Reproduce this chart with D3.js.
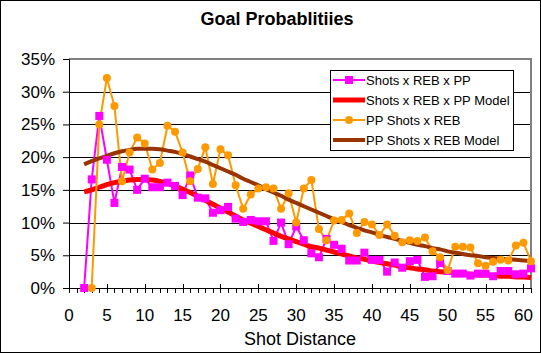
<!DOCTYPE html>
<html>
<head>
<meta charset="utf-8">
<script src="https://cdn.jsdelivr.net/npm/d3@7"></script>
<style>
  body { margin: 0; background: #fff; }
  svg text { font-family: "Liberation Sans", Arial, sans-serif; }
</style>
</head>
<body>
<svg id="chart" width="541" height="353"></svg>
<script>
// ---- data (percent) ----
const shotDist = d3.range(2, 62); // 2..61

const rebPP = [0, 16.6, 26.3, 19.6, 13.0, 18.5, 18.1, 15.0, 16.7, 15.4,
  15.4, 16.1, 15.6, 14.2, 17.2, 13.8, 13.7, 11.5, 11.9, 12.4,
  10.6, 10.1, 10.4, 10.2, 10.2, 7.2, 10.0, 6.7, 9.4, 7.3,
  5.3, 4.7, 7.5, 6.6, 6.0, 4.2, 4.2, 5.4, 4.3, 4.3,
  2.5, 3.9, 3.1, 4.1, 4.3, 1.7, 1.8, 3.8, 2.6, 2.2,
  2.2, 1.9, 2.2, 2.2, 1.8, 2.6, 2.6, 2.1, 2.2, 3.0];

const rebPPModel = [14.7, 15.0, 15.4, 15.8, 16.1, 16.3, 16.5, 16.6, 16.6, 16.5,
  16.3, 16.0, 15.6, 15.1, 14.6, 14.0, 13.4, 12.8, 12.2, 11.6,
  11.0, 10.4, 9.9, 9.4, 8.9, 8.4, 7.9, 7.5, 7.1, 6.7,
  6.3, 6.1, 5.8, 5.5, 5.2, 4.9, 4.6, 4.4, 4.1, 3.9,
  3.7, 3.5, 3.2, 3.1, 2.9, 2.8, 2.6, 2.5, 2.4, 2.3,
  2.2, 2.1, 2.0, 2.0, 1.9, 1.8, 1.8, 1.7, 1.7, 1.6];

const ppDist = d3.range(3, 62); // 3..61
const ppReb = [0, 25.0, 32.1, 27.8, 16.3, 20.7, 23.0, 22.1, 18.1,
  19.1, 24.8, 23.9, 20.7, 16.3, 18.2, 21.5, 15.9, 21.2, 20.3,
  15.7, 12.1, 14.3, 15.2, 15.4, 15.2, 12.1, 14.5, 10.0, 15.2,
  16.5, 9.0, 7.3, 10.3, 10.4, 11.4, 8.4, 10.1, 9.7, 8.1,
  9.7, 8.0, 7.0, 7.3, 7.2, 7.7, 5.6, 4.7, 2.7, 6.3,
  6.3, 6.2, 3.8, 3.4, 4.0, 4.3, 4.2, 6.5, 6.9, 4.1];

const ppRebModel = [18.9, 19.4, 19.8, 20.2, 20.6, 20.9, 21.1, 21.3, 21.3, 21.3,
  21.2, 21.0, 20.8, 20.5, 20.1, 19.7, 19.3, 18.8, 18.3, 17.8,
  17.3, 16.7, 16.2, 15.7, 15.1, 14.6, 14.1, 13.5, 13.0, 12.5,
  12.0, 11.5, 11.0, 10.5, 10.1, 9.6, 9.2, 8.8, 8.5, 8.1,
  7.8, 7.5, 7.2, 6.9, 6.6, 6.4, 6.1, 5.9, 5.6, 5.4,
  5.2, 5.0, 4.9, 4.7, 4.6, 4.5, 4.4, 4.3, 4.2, 4.1];

const yTicks = [0, 5, 10, 15, 20, 25, 30, 35];
const xTicks = [0, 5, 10, 15, 20, 25, 30, 35, 40, 45, 50, 55, 60];
const legendNames = ["Shots x REB x PP", "Shots x REB x PP Model", "PP Shots x REB", "PP Shots x REB Model"];

// ---- layout ----
const svg = d3.select("#chart");
const W = 541, H = 353;
const plot = { left: 69, top: 59, right: 531, bottom: 288 };

svg.append("rect").attr("x", 0.5).attr("y", 0.5)
  .attr("width", W - 1).attr("height", H - 1)
  .attr("fill", "#fff").attr("stroke", "#000");

const x = d3.scaleLinear().domain([0, 61]).range([plot.left, plot.right]);
const y = d3.scaleLinear().domain([0, 35]).range([plot.bottom, plot.top]);

// title
svg.append("text").attr("x", 277).attr("y", 25)
  .attr("text-anchor", "middle").attr("font-size", 18).attr("font-weight", "bold")
  .text("Goal Probablitiies");

// gridlines
svg.append("g").selectAll("line").data(yTicks.slice(1, -1)).join("line")
  .attr("x1", plot.left).attr("x2", plot.right)
  .attr("y1", d => Math.round(y(d)) + 0.5).attr("y2", d => Math.round(y(d)) + 0.5)
  .attr("stroke", "#000").attr("stroke-width", 1);

// plot border (top + right grey)
svg.append("path")
  .attr("d", `M${plot.left},${plot.top} H${plot.right} V${plot.bottom}`)
  .attr("fill", "none").attr("stroke", "#808080").attr("stroke-width", 2);

// y axis
const yAxis = svg.append("g").attr("transform", `translate(${plot.left},0)`)
  .call(d3.axisLeft(y).tickValues(yTicks).tickFormat(d => d + "%").tickSize(6).tickPadding(8));
yAxis.select(".domain").attr("stroke", "#000");
yAxis.selectAll("text").attr("font-size", 17).attr("font-family", "Liberation Sans, Arial, sans-serif").attr("fill", "#000");

// x axis: minor ticks every 1, major every 5
const xAxisG = svg.append("g").attr("transform", `translate(0,${plot.bottom})`);
xAxisG.append("line").attr("x1", plot.left).attr("x2", plot.right)
  .attr("y1", 0.5).attr("y2", 0.5).attr("stroke", "#000");
xAxisG.selectAll("line.minor").data(d3.range(0, 62)).join("line")
  .attr("class", "minor")
  .attr("x1", d => Math.round(x(d)) + 0.5).attr("x2", d => Math.round(x(d)) + 0.5)
  .attr("y1", d => d % 5 === 0 ? -4 : 0).attr("y2", 5)
  .attr("stroke", "#000");
xAxisG.selectAll("text").data(xTicks).join("text")
  .attr("x", d => x(d)).attr("y", 33)
  .attr("text-anchor", "middle").attr("font-size", 17)
  .text(d => d);

svg.append("text").attr("x", 300).attr("y", 345)
  .attr("text-anchor", "middle").attr("font-size", 18)
  .text("Shot Distance");

// ---- series ----
const line = d3.line().x(d => x(d[0])).y(d => y(d[1]));
const smooth = d3.line().x(d => x(d[0])).y(d => y(d[1])).curve(d3.curveMonotoneX);

const pinkPts = d3.zip(shotDist, rebPP);
const redPts = d3.zip(shotDist, rebPPModel);
const orangePts = d3.zip(ppDist, ppReb);
const brownPts = d3.zip(shotDist, ppRebModel);

const colors = ["#ff00ff", "#ff0000", "#ff9900", "#993300"];

svg.append("path").datum(pinkPts).attr("d", line)
  .attr("fill", "none").attr("stroke", colors[0]).attr("stroke-width", 2);
svg.append("path").datum(redPts).attr("d", smooth)
  .attr("fill", "none").attr("stroke", colors[1]).attr("stroke-width", 5);
svg.append("path").datum(orangePts).attr("d", line)
  .attr("fill", "none").attr("stroke", colors[2]).attr("stroke-width", 2);
svg.append("path").datum(brownPts).attr("d", smooth)
  .attr("fill", "none").attr("stroke", colors[3]).attr("stroke-width", 4);

svg.append("g").selectAll("rect").data(pinkPts).join("rect")
  .attr("x", d => x(d[0]) - 4).attr("y", d => y(d[1]) - 4)
  .attr("width", 8).attr("height", 8).attr("fill", colors[0]);
svg.append("g").selectAll("circle").data(orangePts).join("circle")
  .attr("cx", d => x(d[0])).attr("cy", d => y(d[1])).attr("r", 4)
  .attr("fill", colors[2]);

// ---- legend ----
const lg = svg.append("g");
lg.append("rect").attr("x", 330.5).attr("y", 70.5).attr("width", 183).attr("height", 80)
  .attr("fill", "#fff").attr("stroke", "#000");
const rowY = [80, 100, 120, 140];
const lineW = [2, 5, 2, 4];
legendNames.forEach((name, i) => {
  const yy = rowY[i];
  lg.append("line").attr("x1", 333).attr("x2", 365).attr("y1", yy).attr("y2", yy)
    .attr("stroke", colors[i]).attr("stroke-width", lineW[i]);
  if (i === 0) {
    lg.append("rect").attr("x", 345).attr("y", yy - 4).attr("width", 8).attr("height", 8).attr("fill", colors[0]);
  } else if (i === 2) {
    lg.append("circle").attr("cx", 349).attr("cy", yy).attr("r", 4).attr("fill", colors[2]);
  }
  lg.append("text").attr("x", 366).attr("y", yy + 5).attr("font-size", 13).text(name);
});
</script>
</body>
</html>
